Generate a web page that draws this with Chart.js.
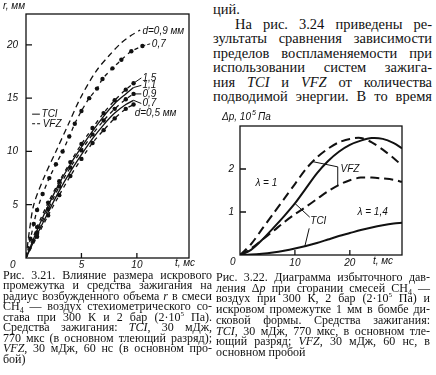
<!DOCTYPE html>
<html lang="ru">
<head>
<meta charset="utf-8">
<script src="https://cdn.jsdelivr.net/npm/chart.js@4"></script>
<style>
  body { margin: 0; width: 436px; height: 375px; background: #fff; position: relative; overflow: hidden; color: #111; }
  canvas { position: absolute; }
  .txt { position: absolute; font-family: "Liberation Serif", serif; }
  .txt div { text-align: justify; text-align-last: justify; white-space: normal; }
  .txt div.last { text-align-last: left; }
  .para { left: 213px; top: 2px; width: 219px; font-size: 14.5px; line-height: 14.5px; }
  .cap { font-size: 12px; line-height: 10.45px; }
</style>
</head>
<body>
<canvas id="c1" width="200" height="272" style="left:0;top:0"></canvas>
<canvas id="c2" width="226" height="164" style="left:210px;top:108px"></canvas>

<div class="txt para">
  <div class="last">ций.</div>
  <div style="padding-left:22px">На рис. 3.24 приведены ре-</div>
  <div>зультаты сравнения зависимости</div>
  <div>пределов воспламеняемости при</div>
  <div>использовании систем зажига-</div>
  <div>ния <i>TCI</i> и <i>VFZ</i> от количества</div>
  <div>подводимой энергии. В то время</div>
</div>

<div class="txt cap" style="left:3px;top:270px;width:209px">
  <div>Рис. 3.21. Влияние размера искрового</div>
  <div>промежутка и средства зажигания на</div>
  <div>радиус возбужденного объема <i>r</i> в смеси</div>
  <div>CH<sub style="font-size:8px;line-height:0">4</sub> — воздух стехиометрического со-</div>
  <div>става при 300 К и 2 бар (2·10<sup style="font-size:7px;line-height:0">5</sup> Па).</div>
  <div>Средства зажигания: <i>TCI</i>, 30 мДж,</div>
  <div>770 мкс (в основном тлеющий разряд);</div>
  <div><i>VFZ</i>, 30 мДж, 60 нс (в основном про-</div>
  <div class="last">бой)</div>
</div>

<div class="txt cap" style="left:216px;top:272px;width:214px;line-height:10.7px">
  <div>Рис. 3.22. Диаграмма избыточного дав-</div>
  <div>ления Δ<i>p</i> при сгорании смесей CH<sub style="font-size:8px;line-height:0">4</sub> —</div>
  <div>воздух при 300 К, 2 бар (2·10<sup style="font-size:7px;line-height:0">5</sup> Па) и</div>
  <div>искровом промежутке 1 мм в бомбе ди-</div>
  <div>сковой формы. Средства зажигания:</div>
  <div><i>TCI</i>, 30 мДж, 770 мкс, в основном тле-</div>
  <div>ющий разряд; <i>VFZ</i>, 30 мДж, 60 нс, в</div>
  <div class="last">основном пробой</div>
</div>

<script>
// Fig. 3.21: radius r (mm) against time t (ms)
const vfz09T = [0, 0.3, 0.7, 1.6, 2.7, 3.8, 4.9, 6.3, 7.5, 8.6, 9.5, 10.3];
const vfz09R = [0, 2.5, 5.0, 7.5, 10.0, 12.5, 15.0, 17.5, 19.0, 20.2, 20.9, 21.4];
const vfz07T = [0, 0.4, 0.7, 1.0, 1.5, 2.1, 2.7, 3.3, 3.9, 4.4, 5.0, 5.7, 6.4, 6.9, 7.8, 8.6, 9.5, 10.5];
const vfz07R = [0, 1.8, 3.2, 4.5, 6.0, 7.5, 8.8, 10.0, 11.4, 12.6, 13.8, 15.0, 15.9, 16.8, 17.8, 18.6, 19.4, 19.9];
const lowT = [0, 1, 2, 3, 4, 5, 6, 7, 8, 9, 9.7];
const d15R = [0, 2.9, 5.2, 7.2, 9.0, 10.7, 12.2, 13.6, 14.8, 15.8, 16.4];
const d11R = [0, 2.6, 4.9, 7.0, 8.8, 10.4, 11.9, 13.3, 14.5, 15.4, 16.0];
const d09R = [0, 2.4, 4.6, 6.7, 8.5, 10.1, 11.6, 12.9, 14.0, 14.9, 15.4];
const d07R = [0, 2.2, 4.3, 6.3, 8.1, 9.7, 11.2, 12.5, 13.6, 14.4, 14.8];
const d05R = [0, 2.0, 4.0, 5.9, 7.7, 9.3, 10.8, 12.0, 13.1, 14.0, 14.4];
const leftXTicks = [5, 10];
const leftYTicks = [5, 10, 15, 20];

// Fig. 3.22: overpressure dp (10^5 Pa) against time t (ms)
const dpT = [0, 2, 4, 6, 8, 10, 12, 14, 16, 18, 20, 22, 24, 26, 28, 29.5];
const vfzL1 = [0, 0.25, 0.6, 0.95, 1.3, 1.65, 2.0, 2.27, 2.47, 2.62, 2.7, 2.72, 2.62, 2.45, 2.25, 2.08];
const tciL1 = [0, 0.12, 0.35, 0.62, 0.9, 1.2, 1.55, 1.9, 2.18, 2.4, 2.56, 2.66, 2.72, 2.7, 2.6, 2.48];
const vfzL14 = [0, 0.15, 0.35, 0.55, 0.76, 0.95, 1.12, 1.3, 1.48, 1.63, 1.74, 1.8, 1.8, 1.78, 1.75, 1.7];
const tciL14 = [0, 0.01, 0.03, 0.06, 0.1, 0.15, 0.21, 0.28, 0.36, 0.44, 0.51, 0.58, 0.64, 0.69, 0.73, 0.75];
const rightXTicks = [10, 20];
const rightYTicks = [1, 2];

const INK = '#111';
const LABEL_FONT = 'italic 10px "Liberation Sans", sans-serif';

function pts(xs, ys) {
  return xs.map((x, i) => ({ x, y: ys[i] }));
}

function line(data, dash, dots, width) {
  return {
    data: data,
    borderColor: INK,
    borderWidth: width || 1.3,
    borderDash: dash,
    tension: 0.3,
    pointRadius: dots ? (c => c.dataIndex ? 2.2 : 0) : 0,
    pointBackgroundColor: INK,
    pointBorderWidth: 0
  };
}

function axis(min, max, ticks, size, pad) {
  return {
    type: 'linear', min: min, max: max,
    grid: { display: false, drawTicks: false },
    border: { display: false },
    afterBuildTicks: s => { s.ticks = ticks.map(v => ({ value: v })); },
    afterFit: s => { if (s.isHorizontal()) s.height = size; else s.width = size; },
    ticks: { font: { family: '"Liberation Sans", sans-serif', size: 10, style: 'italic' }, color: INK, padding: pad, autoSkip: false, maxRotation: 0 }
  };
}

// box round the plot area with short ticks pointing inward
function drawFrame(chart) {
  const { ctx, chartArea: a, scales: { x, y } } = chart;
  ctx.save();
  ctx.strokeStyle = INK;
  ctx.lineWidth = 1.3;
  ctx.strokeRect(a.left, a.top, a.right - a.left, a.bottom - a.top);
  ctx.beginPath();
  x.ticks.forEach(t => {
    const p = x.getPixelForValue(t.value);
    ctx.moveTo(p, a.bottom); ctx.lineTo(p, a.bottom - 5);
  });
  y.ticks.forEach(t => {
    const p = y.getPixelForValue(t.value);
    ctx.moveTo(a.left, p); ctx.lineTo(a.left + 6, p);
  });
  ctx.stroke();
  ctx.restore();
}

function note(chart, s, tx, ty) {
  const { ctx, scales: { x, y } } = chart;
  ctx.fillText(s, x.getPixelForValue(tx), y.getPixelForValue(ty));
}

function leader(chart, coords, dash) {
  const { ctx, scales: { x, y } } = chart;
  ctx.setLineDash(dash || []);
  ctx.beginPath();
  for (let i = 0; i < coords.length; i += 2) {
    const px = x.getPixelForValue(coords[i]), py = y.getPixelForValue(coords[i + 1]);
    if (i === 0) ctx.moveTo(px, py); else ctx.lineTo(px, py);
  }
  ctx.stroke();
  ctx.setLineDash([]);
}

const leftNotes = {
  id: 'leftNotes',
  afterDraw(chart) {
    drawFrame(chart);
    const ctx = chart.ctx;
    ctx.save();
    ctx.fillStyle = INK; ctx.strokeStyle = INK; ctx.lineWidth = 1;
    ctx.font = LABEL_FONT;
    ctx.textBaseline = 'middle';
    ctx.textAlign = 'left';
    ctx.fillText('r, мм', 3, 6);
    ctx.fillText('t, мс', 175, 263);
    ctx.fillText('0', 10, 265);
    note(chart, 'd=0,9 мм', 10.5, 21.3);
    note(chart, '0,7', 11.35, 20.1);
    note(chart, '1,5', 10.5, 16.9);
    note(chart, '1,1', 10.5, 16.2);
    note(chart, '0,9', 10.5, 15.4);
    note(chart, '0,7', 10.5, 14.5);
    note(chart, 'd=0,5 мм', 9.8, 13.6);
    leader(chart, [10.5, 19.9, 11.2, 20.1], [3, 2]);
    leader(chart, [9.7, 16.4, 10.4, 16.9]);
    leader(chart, [9.7, 16.0, 10.4, 16.2]);
    leader(chart, [9.7, 15.4, 10.4, 15.4]);
    leader(chart, [9.7, 14.8, 10.4, 14.5]);
    // legend
    leader(chart, [0.55, 13.5, 1.25, 13.5]);
    note(chart, 'TCI', 1.4, 13.5);
    leader(chart, [0.55, 12.6, 1.35, 12.6], [3, 2]);
    note(chart, 'VFZ', 1.5, 12.6);
    ctx.restore();
  }
};

const rightNotes = {
  id: 'rightNotes',
  afterDraw(chart) {
    drawFrame(chart);
    const ctx = chart.ctx;
    ctx.save();
    ctx.fillStyle = INK; ctx.strokeStyle = INK; ctx.lineWidth = 1;
    ctx.font = LABEL_FONT;
    ctx.textBaseline = 'middle';
    ctx.textAlign = 'left';
    ctx.fillText('Δp, 10', 12, 9);
    const w = ctx.measureText('Δp, 10').width;
    ctx.font = 'italic 7px "Liberation Sans", sans-serif';
    ctx.fillText('5', 12 + w + 1, 5);
    ctx.font = LABEL_FONT;
    ctx.fillText('Па', 12 + w + 7, 9);
    ctx.fillText('t, мс', 163, 153);
    ctx.fillText('0', 20, 154);
    note(chart, 'λ = 1', 2.8, 1.68);
    note(chart, 'λ = 1,4', 21.4, 1.0);
    note(chart, 'VFZ', 18.3, 2.0);
    note(chart, 'TCI', 12.8, 0.78);
    leader(chart, [13.3, 2.17, 17.8, 2.05, 17.8, 1.62]);
    leader(chart, [10.0, 1.2, 12.7, 0.88]);
    leader(chart, [11.8, 0.2, 12.6, 0.62]);
    ctx.restore();
  }
};

new Chart(document.getElementById('c1'), {
  type: 'line',
  data: {
    datasets: [
      line(pts(vfz09T, vfz09R), [6, 4], false),
      line(pts(vfz07T, vfz07R), [4, 4], true),
      line(pts(lowT, d15R), [4, 4], true),
      line(pts(lowT, d11R), [], false),
      line(pts(lowT, d09R), [4, 4], true),
      line(pts(lowT, d07R), [], false),
      line(pts(lowT, d05R), [4, 4], true)
    ]
  },
  options: {
    responsive: false,
    animation: false,
    devicePixelRatio: 1,
    layout: { padding: { top: 4, right: 11, bottom: 0, left: 0 } },
    plugins: { legend: { display: false }, tooltip: { enabled: false } },
    scales: {
      x: axis(0, 14.7, leftXTicks, 14, 1),
      y: axis(0, 22.9, leftYTicks, 26, 8)
    }
  },
  plugins: [leftNotes]
});

new Chart(document.getElementById('c2'), {
  type: 'line',
  data: {
    datasets: [
      line(pts(dpT, vfzL1), [9, 5], false, 2),
      line(pts(dpT, tciL1), [], false, 2),
      line(pts(dpT, vfzL14), [9, 5], false, 2),
      line(pts(dpT, tciL14), [], false, 2)
    ]
  },
  options: {
    responsive: false,
    animation: false,
    devicePixelRatio: 1,
    layout: { padding: { top: 18, right: 34, bottom: 3, left: 0 } },
    plugins: { legend: { display: false }, tooltip: { enabled: false } },
    scales: {
      x: axis(0, 29.5, rightXTicks, 14, 2),
      y: axis(0, 3.0, rightYTicks, 30, 6)
    }
  },
  plugins: [rightNotes]
});
</script>
</body>
</html>
